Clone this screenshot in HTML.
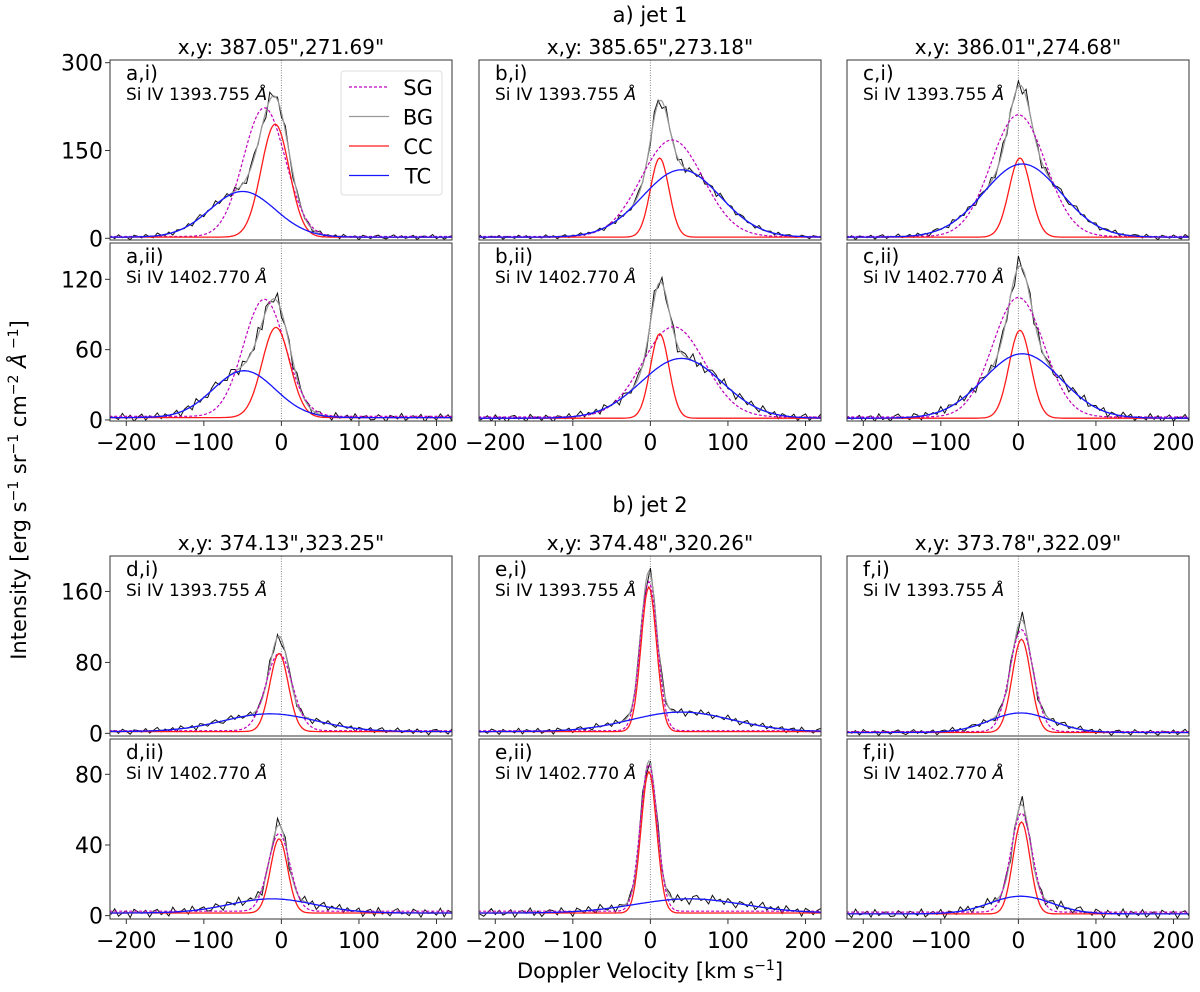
<!DOCTYPE html>
<html><head><meta charset="utf-8"><style>
html,body{margin:0;padding:0;background:#fff}
svg{display:block;font-family:"DejaVu Sans","Liberation Sans",sans-serif}
</style></head><body>
<svg id="fig" width="1200" height="992" viewBox="0 0 1200 992" xmlns="http://www.w3.org/2000/svg">
<text x="650" y="22" text-anchor="middle" font-size="21">a) jet 1</text>
<text x="650" y="512" text-anchor="middle" font-size="21">b) jet 2</text>
<text x="650" y="978" text-anchor="middle" font-size="21">Doppler Velocity [km s<tspan dy="-8" font-size="14">−1</tspan><tspan dy="8">]</tspan></text>
<text transform="translate(26,490) rotate(-90)" text-anchor="middle" font-size="21">Intensity [erg s<tspan dy="-8" font-size="14">−1</tspan><tspan dy="8"> sr</tspan><tspan dy="-8" font-size="14">−1</tspan><tspan dy="8"> cm</tspan><tspan dy="-8" font-size="14">−2</tspan><tspan dy="8" font-style="italic"> Å</tspan><tspan dy="-8" font-size="14"> −1</tspan><tspan dy="8">]</tspan></text>
</svg>
<script>
const panelIds = ["a","b","c","a","b","c","d","e","f","d","e","f"];
const panelSub = ["i","i","i","ii","ii","ii","i","i","i","ii","ii","ii"];
const coords = ["387.05\",271.69\"","385.65\",273.18\"","386.01\",274.68\"","374.13\",323.25\"","374.48\",320.26\"","373.78\",322.09\""];
const ccAmp = [193,135,135, 77,72,75, 88,163,105, 42,80,52];
const ccCen = [-8,12,2, -7,12,2, -3,-2,4, -3,-2,4];
const ccSig = [18,12,14, 18,12,14, 12,10,12, 11,10,11];
const tcAmp = [78,115,125, 40,51,55, 20,22,22, 8,8,10];
const tcCen = [-50,40,5, -48,40,5, -15,40,3, -12,50,3];
const tcSig = [42,50,50, 40,52,50, 60,65,40, 55,70,40];
const sgAmp = [220,165,208, 100,77,102, 87,168,115, 44,83,56];
const sgCen = [-22,28,0, -22,30,0, -3,-2,4, -3,-2,4];
const sgSig = [27,40,35, 27,40,33, 17,11,15, 14,11,14];
const bgLevel = [2,2,2, 2,1.5,1.5, 2,2,1, 1.5,1.5,1];
const noiseAmp = [5,4,5, 4,4,4, 4,4,4, 3,3,3];
const noiseA = [0.3,-0.5,0.8,-0.2,0.1,-0.9,0.6,0.2,-0.4,0.7,-0.1,-0.6,0.9,0.0,-0.3,0.5,-0.8,0.4,0.1,-0.2,0.6,-0.7,0.3,0.8,-0.5,0.2,-0.1,0.9,-0.4,0.0,0.5,-0.6,0.7,-0.3,0.2,-0.9,0.4,0.6,-0.2,0.1,-0.7,0.8,-0.1,0.3,-0.5,0.6,0.0,-0.8,0.4,0.2,-0.3,0.7,-0.6,0.1,0.9,-0.4,0.3,-0.2,0.5,-0.7,0.8,0.0,-0.1,0.4,-0.9,0.6,0.2,-0.5,0.3,0.7,-0.2,-0.6,0.1,0.8,-0.3,0.5,-0.4,0.0,0.6,-0.8,0.2,0.4,-0.1,0.9,-0.5,0.3,-0.7,0.1,0.5];
const noiseB = [-0.4,0.6,0.1,-0.8,0.5,0.2,-0.3,0.9,-0.6,0.0,0.4,-0.2,0.7,-0.9,0.3,0.1,-0.5,0.8,-0.1,0.6,-0.7,0.2,0.0,-0.4,0.9,-0.3,0.5,-0.8,0.1,0.7,-0.6,0.3,-0.1,0.8,-0.5,0.4,-0.2,0.0,0.6,-0.9,0.2,0.5,-0.7,0.9,-0.3,0.1,-0.6,0.4,0.8,-0.2,0.0,-0.5,0.7,0.3,-0.8,0.6,-0.1,0.2,-0.4,0.9,-0.7,0.5,0.1,-0.3,0.8,-0.6,0.0,0.4,-0.9,0.7,0.2,-0.1,0.5,-0.8,0.3,0.6,-0.4,0.1,-0.7,0.9,-0.2,0.0,0.5,-0.6,0.8,-0.3,0.2,0.4,-0.5];
const xTicks = [-200,-100,0,100,200];
const yTicksRows = [[0,150,300],[0,60,120],[0,80,160],[0,40,80]];
const yLims = [[-2.9,304.6],[-0.9,151],[-3,200],[-1.9,100]];
const xLim = [-221,220];
const colX = [[110,452],[479,821],[847,1189]];
const rowY = [[60,240],[243,421],[556,736],[739,919]];

const NS="http://www.w3.org/2000/svg";
const svg=document.getElementById("fig");
function mk(tag,attrs,parent){const e=document.createElementNS(NS,tag);for(const k in attrs)e.setAttribute(k,attrs[k]);(parent||svg).appendChild(e);return e;}
function g(a,c,s,v){return a*Math.exp(-((v-c)*(v-c))/(2*s*s));}

for(let p=0;p<12;p++){
  const r=Math.floor(p/3), c=p%3;
  const [x0,x1]=colX[c], [y0,y1]=rowY[r], [ymn,ymx]=yLims[r];
  const sx=v=>x0+(v-xLim[0])/(xLim[1]-xLim[0])*(x1-x0);
  const sy=v=>y1-(v-ymn)/(ymx-ymn)*(y1-y0);
  const grp=mk("g",{});
  
  
  const cid="clip"+p;
  const cp=mk("clipPath",{id:cid},grp); mk("rect",{x:x0,y:y0,width:x1-x0,height:y1-y0},cp);
  const plot=mk("g",{"clip-path":"url(#"+cid+")"},grp);
  const zl=mk("line",{x1:sx(0),x2:sx(0),y1:y0,y2:y1,stroke:"#888","stroke-width":1,"stroke-dasharray":"1,1.5"},plot);
  
  
  const bg=bgLevel[p];
  const cc=v=>bg+g(ccAmp[p],ccCen[p],ccSig[p],v);
  const tc=v=>bg+g(tcAmp[p],tcCen[p],tcSig[p],v);
  const sg=v=>bg+1+g(sgAmp[p],sgCen[p],sgSig[p],v);
  const bgc=v=>bg+g(ccAmp[p],ccCen[p],ccSig[p],v)+g(tcAmp[p],tcCen[p],tcSig[p],v);
  const path=f=>{let d="";for(let v=-222;v<=222;v+=2){d+=(d?"L":"M")+sx(v).toFixed(1)+","+sy(f(v)).toFixed(1);}return d;};
  const nz=(p%2?noiseB:noiseA);
  let d="",i=0;
  for(let v=-220;v<=220;v+=5,i++){const m=bgc(v);const val=m+nz[(i+p*7)%nz.length]*(noiseAmp[p]+0.05*(m-bg));d+=(d?"L":"M")+sx(v).toFixed(1)+","+sy(val).toFixed(1);}
  const ob=mk("path",{d:d,fill:"none",stroke:"#111","stroke-width":1},plot);
  
  
  const b=mk("path",{d:path(bgc),fill:"none",stroke:"#999","stroke-width":1.2},plot);
  
  
  const s=mk("path",{d:path(sg),fill:"none",stroke:"#c000c0","stroke-width":1.2,"stroke-dasharray":"3,2"},plot);
  
  
  const rc=mk("path",{d:path(cc),fill:"none",stroke:"#ff1a1a","stroke-width":1.3},plot);
  
  
  const bt=mk("path",{d:path(tc),fill:"none",stroke:"#1515ff","stroke-width":1.3},plot);
  
  
  const fr=mk("rect",{x:x0,y:y0,width:x1-x0,height:y1-y0,fill:"none",stroke:"#333","stroke-width":1},grp);
  
  
  const lab=mk("text",{x:x0+16,y:y0+20,"font-size":20},grp); lab.textContent=panelIds[p]+","+panelSub[p]+")";
  
  
  const ln=mk("text",{x:x0+16,y:y0+40,"font-size":17},grp);
  ln.textContent=(panelSub[p]=="i"?"Si IV 1393.755 ":"Si IV 1402.770 ");
  const ang=mk("tspan",{"font-style":"italic"},ln); ang.textContent="Å";
  
  
  if(c==0){
    yTicksRows[r].forEach(t=>{mk("line",{x1:x0-5,x2:x0,y1:sy(t),y2:sy(t),stroke:"#333"},grp);
      const tt=mk("text",{x:x0-7,y:sy(t)+8,"text-anchor":"end","font-size":22},grp);tt.textContent=t;
      
      });
  }
  if(r==1||r==3){
    xTicks.forEach(t=>{mk("line",{x1:sx(t),x2:sx(t),y1:y1,y2:y1+5,stroke:"#333"},grp);
      const tt=mk("text",{x:sx(t),y:y1+29,"text-anchor":"middle","font-size":22},grp);tt.textContent=(t<0?"−":"")+Math.abs(t);
      
      });
  }
  if(r==0||r==2){
    const ti=mk("text",{x:(x0+x1)/2,y:y0-6,"text-anchor":"middle","font-size":20},grp);
    ti.textContent="x,y: "+coords[(r==0?0:3)+c];
    
    
  }
}
const lg=mk("g",{});


mk("rect",{x:341,y:71,width:101,height:124,rx:3,fill:"#fff","fill-opacity":0.9,stroke:"#ddd"},lg);
const legNames=["SG","BG","CC","TC"], legCol=["#c000c0","#999","#ff1a1a","#1515ff"];
legNames.forEach((n,k)=>{const y=87+k*29.5;
  const l=mk("line",{x1:349,x2:389,y1:y,y2:y,stroke:legCol[k],"stroke-width":1.3},lg);
  if(k==0)l.setAttribute("stroke-dasharray","3,2");
  const t=mk("text",{x:418,y:y+8,"text-anchor":"middle","font-size":21},lg);t.textContent=n;
  
  });
</script>
</body></html>
